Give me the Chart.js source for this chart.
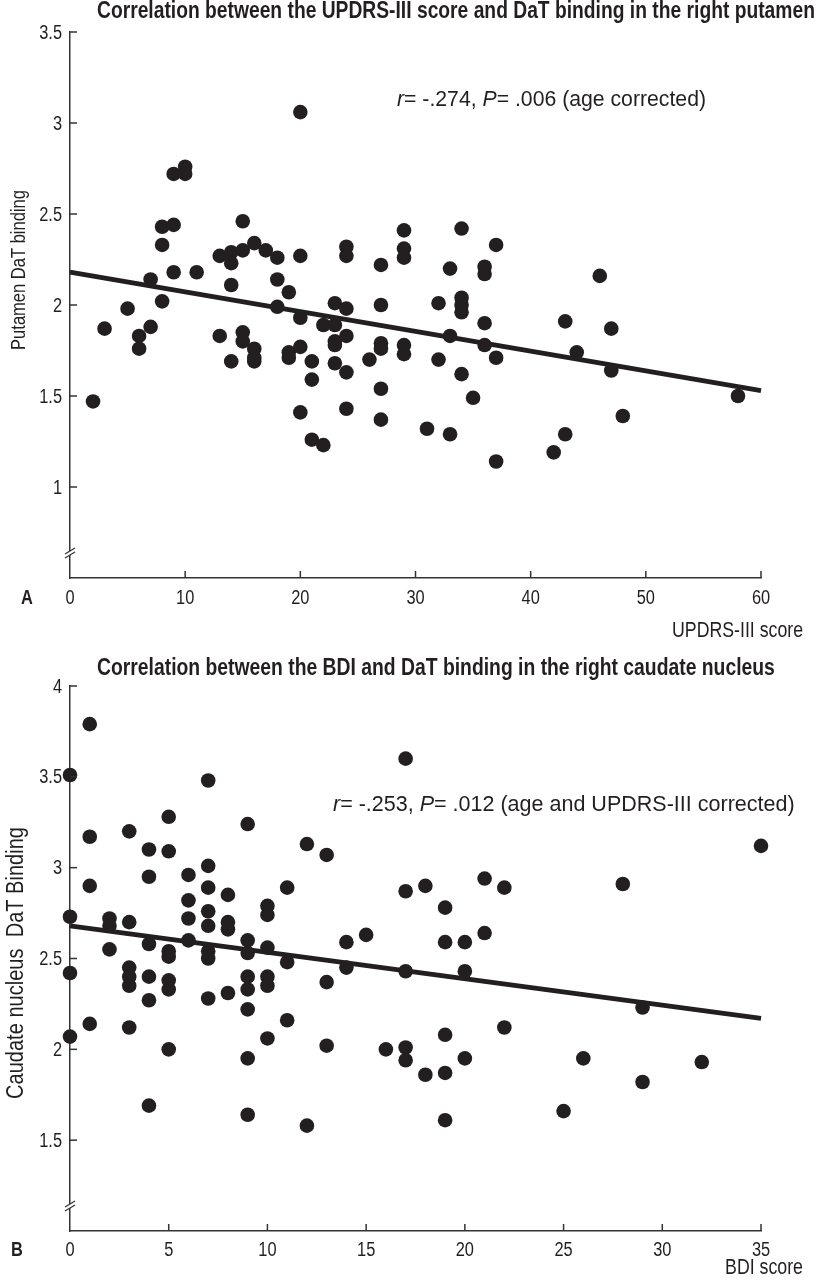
<!DOCTYPE html>
<html><head><meta charset="utf-8">
<script src="https://cdn.jsdelivr.net/npm/chart.js@4.4.1/dist/chart.umd.min.js"></script>
<style>
html,body{margin:0;padding:0;background:#fff;overflow:hidden;}
#wrapA{position:absolute;left:0;top:0;width:817px;height:640px;}
#wrapB{position:absolute;left:0;top:640px;width:817px;height:641px;}
</style></head><body>
<div id="wrapA"><canvas id="cA"></canvas></div>
<div id="wrapB"><canvas id="cB"></canvas></div>
<script>
// ---------- Panel A data ----------
const updrsScores = [2,3,5,6,6,7,7,8,8,8,9,9,9,10,10,11,13,13,14,14,14,14,15,15,15,15,16,16,16,16,17,18,18,18,19,19,19,20,20,20,20,20,21,21,21,22,22,23,23,23,23,23,24,24,24,24,24,24,26,27,27,27,27,27,27,29,29,29,29,29,31,32,32,33,33,33,34,34,34,34,34,35,36,36,36,36,37,37,37,42,43,43,44,46,47,47,48,58];
const putamenBinding = [1.47,1.87,1.98,1.83,1.76,2.14,1.88,2.43,2.33,2.02,2.72,2.44,2.18,2.76,2.72,2.18,2.27,1.83,2.29,2.23,2.11,1.69,2.46,2.30,1.85,1.80,2.34,1.76,1.71,1.69,2.30,2.26,2.14,1.99,2.07,1.74,1.71,3.06,2.27,1.93,1.77,1.41,1.69,1.59,1.26,1.89,1.23,2.01,1.89,1.80,1.78,1.68,2.32,2.27,1.98,1.83,1.63,1.43,1.70,2.22,2.00,1.79,1.76,1.54,1.37,2.41,2.31,2.26,1.78,1.73,1.32,2.01,1.70,2.20,1.83,1.29,2.42,2.04,2.00,1.96,1.62,1.49,2.21,2.17,1.90,1.78,2.33,1.71,1.14,1.19,1.91,1.29,1.74,2.16,1.87,1.64,1.39,1.50];
const fitAX = [0, 60];
const fitAY = [2.18, 1.53];
const xTicksA = [0,10,20,30,40,50,60];
const yTicksA = [1,1.5,2,2.5,3,3.5];
const rangeA = {xMin:0, xMax:60, yMin:0.5, yMax:3.5};
const titleA = "Correlation between the UPDRS-III score and DaT binding in the right putamen";
const statA = [["r",true],["= -.274, ",false],["P",true],["= .006 (age corrected)",false]];
const yLabelA = "Putamen DaT binding";
const xLabelA = "UPDRS-III score";

// ---------- Panel B data ----------
const bdiScores = [0,0,0,0,1,1,1,1,2,2,2,3,3,3,3,3,3,4,4,4,4,4,4,5,5,5,5,5,5,5,6,6,6,6,7,7,7,7,7,7,7,7,8,8,8,8,9,9,9,9,9,9,9,9,10,10,10,10,10,10,11,11,11,12,12,13,13,13,14,14,15,16,17,17,17,17,17,18,18,19,19,19,19,19,20,20,20,21,21,22,22,25,26,28,29,29,32,35];
const caudateBinding = [3.51,2.73,2.42,2.07,3.79,3.17,2.90,2.14,2.72,2.68,2.55,3.20,2.70,2.45,2.40,2.35,2.12,3.10,2.95,2.58,2.40,2.27,1.69,3.28,3.09,2.54,2.51,2.38,2.33,2.00,2.96,2.82,2.72,2.60,3.48,3.01,2.89,2.76,2.68,2.54,2.50,2.28,2.85,2.70,2.66,2.31,3.24,2.60,2.53,2.40,2.33,2.22,1.95,1.64,2.79,2.74,2.56,2.40,2.35,2.06,2.89,2.48,2.16,3.13,1.58,3.07,2.37,2.02,2.59,2.45,2.63,2.00,3.60,2.87,2.43,2.01,1.94,2.90,1.86,2.78,2.59,2.08,1.87,1.61,2.59,2.43,1.95,2.94,2.64,2.89,2.12,1.66,1.95,2.91,2.23,1.82,1.93,3.12];
const fitBX = [0, 35];
const fitBY = [2.68, 2.17];
const xTicksB = [0,5,10,15,20,25,30,35];
const yTicksB = [1.5,2,2.5,3,3.5,4];
const rangeB = {xMin:0, xMax:35, yMin:1, yMax:4};
const titleB = "Correlation between the BDI and DaT binding in the right caudate nucleus";
const statB = [["r",true],["= -.253, ",false],["P",true],["= .012 (age and UPDRS-III corrected)",false]];
const yLabelB = "Caudate nucleus  DaT Binding";
const xLabelB = "BDI score";

// ---------- styling / layout ----------
const INK = '#231f20';
const AXIS = '#333333';
const FAMILY = '"Liberation Sans", Arial, Helvetica, sans-serif';

const mctx = document.createElement('canvas').getContext('2d');
function hasFont(name) {
  mctx.font = '100px monospace';
  const w0 = mctx.measureText('abcdefghijklmnop0123').width;
  mctx.font = '100px "' + name + '", monospace';
  return Math.abs(mctx.measureText('abcdefghijklmnop0123').width - w0) > 1;
}
const NARROW_OK = hasFont('Liberation Sans Narrow');
const NFAMILY = NARROW_OK ? '"Liberation Sans Narrow", "Liberation Sans", Arial, sans-serif' : FAMILY;
const SQUEEZE = NARROW_OK ? 1 : 0.82;   // condensed look when no narrow face exists
const TICK_SIZE = 20;

function fitSize(segs, weight, target, fam, sq) {
  let w = 0;
  segs.forEach(([t, it]) => { mctx.font = (it ? 'italic ' : '') + weight + ' 100px ' + fam; w += mctx.measureText(t).width; });
  return 100 * target / (w * sq);
}

function pairs(xs, ys) { return xs.map((x, i) => ({x: x, y: ys[i]})); }

// draw text horizontally squeezed by sq, anchored at x (align: left/right/center)
function drawText(ctx, text, x, y, align, sq) {
  const w = ctx.measureText(text).width * sq;
  let x0 = align === 'right' ? x - w : (align === 'center' ? x - w / 2 : x);
  ctx.save();
  ctx.textAlign = 'left';
  ctx.translate(x0, y);
  ctx.scale(sq, 1);
  ctx.fillText(text, 0, 0);
  ctx.restore();
}

function makePanel(id, d, L) {
  const decor = {
    id: 'decor' + id,
    afterDraw(chart) {
      const ctx = chart.ctx, a = chart.chartArea;
      const xs = chart.scales.x, ys = chart.scales.y;
      ctx.save();
      // inward ticks
      ctx.strokeStyle = AXIS; ctx.lineWidth = 1.5;
      xs.ticks.forEach(t => {
        const p = xs.getPixelForValue(t.value);
        if (p <= a.left + 1) return;
        ctx.beginPath(); ctx.moveTo(p, a.bottom); ctx.lineTo(p, a.bottom - 7); ctx.stroke();
      });
      ys.ticks.forEach(t => {
        const p = ys.getPixelForValue(t.value);
        ctx.beginPath(); ctx.moveTo(a.left, p); ctx.lineTo(a.left + 7, p); ctx.stroke();
      });
      // condensed tick labels when no narrow face (labels come from the scales' own ticks)
      ctx.fillStyle = INK;
      if (!NARROW_OK) {
        ctx.font = 'normal ' + TICK_SIZE + 'px ' + FAMILY;
        ctx.textBaseline = 'middle';
        xs.ticks.forEach(t => {
          drawText(ctx, t.label, xs.getPixelForValue(t.value), a.bottom + L.xTickDy, 'center', SQUEEZE);
        });
        ys.ticks.forEach(t => {
          drawText(ctx, t.label, a.left - 8, ys.getPixelForValue(t.value) + 1, 'right', SQUEEZE);
        });
      }
      // axis break
      const by = a.bottom - 25;
      ctx.fillStyle = '#fff';
      ctx.fillRect(a.left - 2, by - 2, 4, 4);
      ctx.lineWidth = 1.2;
      ctx.beginPath(); ctx.moveTo(a.left - 5, by + 1); ctx.lineTo(a.left + 5, by - 5); ctx.stroke();
      ctx.beginPath(); ctx.moveTo(a.left - 5, by + 5); ctx.lineTo(a.left + 5, by - 1); ctx.stroke();
      ctx.fillStyle = INK;
      ctx.textBaseline = 'middle';
      // title (condensed bold)
      let fs = fitSize([[d.title, false]], 'bold', L.titleW, NFAMILY, SQUEEZE);
      ctx.font = 'bold ' + fs.toFixed(2) + 'px ' + NFAMILY;
      drawText(ctx, d.title, L.titleX, L.titleY, 'left', SQUEEZE);
      // statistics annotation (regular)
      fs = fitSize(d.stat, 'normal', L.statW, FAMILY, 1);
      let x = L.statX;
      ctx.textAlign = 'left';
      d.stat.forEach(([t, it]) => {
        ctx.font = (it ? 'italic ' : '') + 'normal ' + fs.toFixed(2) + 'px ' + FAMILY;
        ctx.fillText(t, x, L.statY);
        x += ctx.measureText(t).width;
      });
      // y label
      fs = fitSize([[d.yLabel, false]], 'normal', L.yLabW, NFAMILY, SQUEEZE);
      ctx.font = 'normal ' + fs.toFixed(2) + 'px ' + NFAMILY;
      ctx.save();
      ctx.translate(L.yLabX, L.yLabY);
      ctx.rotate(-Math.PI / 2);
      drawText(ctx, d.yLabel, 0, 0, 'center', SQUEEZE);
      ctx.restore();
      // x label
      fs = fitSize([[d.xLabel, false]], 'normal', L.xLabW, NFAMILY, SQUEEZE);
      ctx.font = 'normal ' + fs.toFixed(2) + 'px ' + NFAMILY;
      drawText(ctx, d.xLabel, L.xLabR, L.xLabY, 'right', SQUEEZE);
      // panel letter
      ctx.font = 'bold 20px ' + NFAMILY;
      drawText(ctx, d.letter, L.letX, L.letY, 'center', SQUEEZE);
      ctx.restore();
    }
  };
  return new Chart(document.getElementById(id), {
    type: 'scatter',
    data: {
      datasets: [
        { data: pairs(d.xs, d.ys), pointRadius: 7.3, pointHoverRadius: 7.3, backgroundColor: INK, borderWidth: 0, clip: false, order: 2 },
        { type: 'line', data: pairs(d.fx, d.fy), showLine: true, pointRadius: 0, borderColor: INK, borderWidth: 4.8, fill: false, clip: false, order: 1 }
      ]
    },
    options: {
      responsive: true, maintainAspectRatio: false, animation: false, devicePixelRatio: 1,
      layout: { padding: { top: L.areaTop, right: 817 - 761, left: 0, bottom: 0 } },
      plugins: { legend: { display: false }, title: { display: false }, tooltip: { enabled: false } },
      events: [],
      scales: {
        x: {
          type: 'linear', min: d.range.xMin, max: d.range.xMax,
          afterBuildTicks: s => { s.ticks = d.xTicks.map(v => ({ value: v })); },
          afterFit: s => { s.height = L.H - L.areaBottom; },
          grid: { display: false, drawTicks: false },
          border: { display: true, color: AXIS, width: 1.5 },
          ticks: { display: NARROW_OK, color: INK, font: { family: NFAMILY, size: TICK_SIZE }, padding: 8, maxRotation: 0, autoSkip: false, callback: v => String(v) }
        },
        y: {
          type: 'linear', min: d.range.yMin, max: d.range.yMax,
          afterBuildTicks: s => { s.ticks = d.yTicks.map(v => ({ value: v })); },
          afterFit: s => { s.width = 70; },
          grid: { display: false, drawTicks: false },
          border: { display: true, color: AXIS, width: 1.5 },
          ticks: { display: NARROW_OK, color: INK, font: { family: NFAMILY, size: TICK_SIZE }, padding: 8, autoSkip: false, callback: v => String(v) }
        }
      }
    },
    plugins: [decor]
  });
}

makePanel('cA', {
  xs: updrsScores, ys: putamenBinding, fx: fitAX, fy: fitAY,
  xTicks: xTicksA, yTicks: yTicksA, range: rangeA,
  title: titleA, stat: statA, yLabel: yLabelA, xLabel: xLabelA, letter: 'A'
}, { H: 640, areaTop: 32, areaBottom: 578, xTickDy: 20, titleX: 97, titleY: 12, titleW: 718,
     statX: 397, statY: 100, statW: 309, yLabX: 19, yLabY: 270, yLabW: 160,
     xLabR: 803, xLabY: 631, xLabW: 131, letX: 27, letY: 598 });

makePanel('cB', {
  xs: bdiScores, ys: caudateBinding, fx: fitBX, fy: fitBY,
  xTicks: xTicksB, yTicks: yTicksB, range: rangeB,
  title: titleB, stat: statB, yLabel: yLabelB, xLabel: xLabelB, letter: 'B'
}, { H: 641, areaTop: 46, areaBottom: 591, xTickDy: 19, titleX: 97, titleY: 28, titleW: 678,
     statX: 333, statY: 165, statW: 462, yLabX: 16, yLabY: 323, yLabW: 272,
     xLabR: 803, xLabY: 628, xLabW: 78, letX: 17, letY: 610 });
</script>
</body></html>
